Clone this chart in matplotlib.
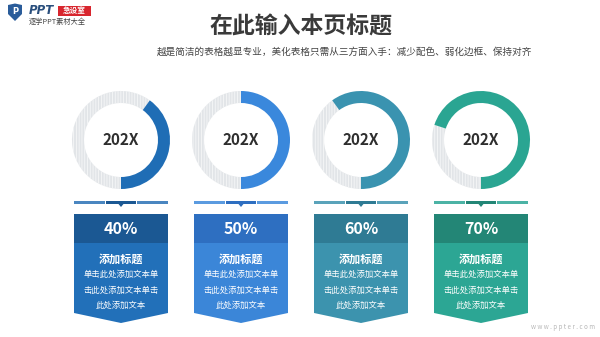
import matplotlib.pyplot as plt
from matplotlib.patches import Wedge, Rectangle, Polygon

plt.rcParams['font.family'] = ['Noto Sans CJK SC', 'DejaVu Sans']
plt.rcParams['hatch.linewidth'] = 0.6

# data
years = ['202X', '202X', '202X', '202X']
percents = [40, 50, 60, 70]
card_titles = ['添加标题'] * 4
card_lines = ['单击此处添加文本单\n击此处添加文本单击\n此处添加文本'] * 4
title = '在此输入本页标题'
subtitle = '越是简洁的表格越显专业，美化表格只需从三方面入手：减少配色、弱化边框、保持对齐'

ring_colors = ['#1f6db5', '#3a88dc', '#3a93b0', '#2aa592']
head_colors = ['#1b5893', '#2e6fc1', '#2f7b94', '#238676']
body_colors = ['#2270b9', '#3b86d8', '#3c93ae', '#2ca694']
bar_colors = ['#4a86c0', '#5b9be0', '#5aa3ba', '#4cb3a5']

fig = plt.figure(figsize=(6, 3.37), dpi=100)
ax = fig.add_axes([0, 0, 1, 1])
ax.set_xlim(0, 600)
ax.set_ylim(337, 0)
ax.set_aspect('equal')
ax.axis('off')

# title and subtitle
ax.text(301, 27, title, ha='center', va='center', fontsize=16.5, fontweight='bold', color='#3a3a3a')
ax.text(157, 52, subtitle, ha='left', va='center', fontsize=6.9, color='#444444')

# logo
shield = Polygon([(8, 5), (15, 3.5), (22, 5), (22, 14), (15, 21), (8, 14)], closed=True,
                 facecolor='#2a5c9a', edgecolor='none')
ax.add_patch(shield)
ax.text(15, 12, 'P', ha='center', va='center', fontsize=6, fontweight='bold', color='white',
        family='DejaVu Sans')
ax.text(29, 11, 'PPT', ha='left', va='center', fontsize=8.5, fontweight='bold',
        style='italic', color='#2a4f7d', family='DejaVu Sans')
ax.add_patch(Rectangle((58, 6), 33, 10, facecolor='#d8262e', edgecolor='none'))
ax.text(74.5, 11, '急设室', ha='center', va='center', fontsize=5.5, fontweight='bold', color='white')
ax.text(29, 22, '逐学PPT素材大全', ha='left', va='center', fontsize=5.2, color='#444444')

cx0 = 121
step = 120
cy = 140
r_out = 49
width = 12
card_w = 94

for i, p in enumerate(percents):
    cx = cx0 + step * i
    # gray striped background ring
    ax.add_patch(Wedge((cx, cy), r_out, 90, 90 + 360 * (100 - p) / 100, width=width,
                       facecolor='#e2e5e8', edgecolor='#f6f7f8', hatch='||||||', linewidth=0))
    # progress arc, clockwise from top
    ax.add_patch(Wedge((cx, cy), r_out, 90 - 360 * p / 100, 90, width=width,
                       facecolor=ring_colors[i], edgecolor='none'))
    ax.text(cx, cy, years[i], ha='center', va='center', fontsize=11,
            fontweight='bold', color='#2e2e2e')

    # segmented bar under donut
    x0 = cx - card_w / 2
    seg = (card_w - 2) / 3
    for k in range(3):
        col = head_colors[i] if k == 1 else bar_colors[i]
        ax.add_patch(Rectangle((x0 + k * (seg + 1), 201), seg, 3, facecolor=col, edgecolor='none'))
    ax.add_patch(Polygon([(cx - 2.5, 204), (cx + 2.5, 204), (cx, 207)], closed=True,
                         facecolor=head_colors[i], edgecolor='none'))

    # card header and body
    x1 = cx + card_w / 2
    ax.add_patch(Rectangle((x0, 214), card_w, 29, facecolor=head_colors[i], edgecolor='none'))
    ax.add_patch(Polygon([(x0, 243), (x1, 243), (x1, 313), (cx, 323), (x0, 313)], closed=True,
                         facecolor=body_colors[i], edgecolor='none'))
    ax.text(cx, 229, f'{p}%', ha='center', va='center', fontsize=11.5,
            fontweight='bold', color='white')
    ax.text(cx, 259, card_titles[i], ha='center', va='center', fontsize=8,
            fontweight='bold', color='white')
    ax.text(cx, 290, card_lines[i], ha='center', va='center', fontsize=6,
            color='white', linespacing=1.9)

ax.text(595, 327, 'w w w . p p t e r . c o m', ha='right', va='center', fontsize=4.5,
        color='#b8b8b8')

fig.savefig('out.png', dpi=100, facecolor='white')
